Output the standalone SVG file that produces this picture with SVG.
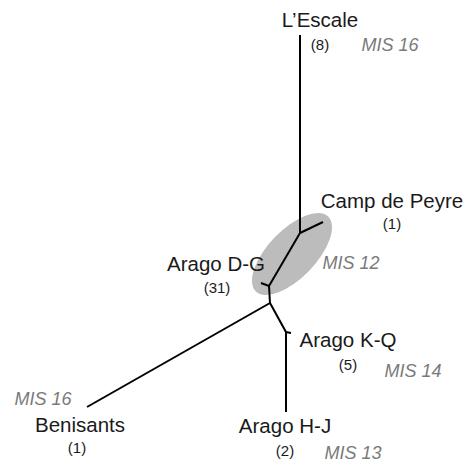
<svg xmlns="http://www.w3.org/2000/svg" width="473" height="463" viewBox="0 0 473 463">
<style>
.lbl{font-family:"Liberation Sans",Arial,sans-serif;font-size:20.5px;fill:#1a1a1a;text-anchor:middle}
.cnt{font-family:"Liberation Sans",Arial,sans-serif;font-size:15px;fill:#1a1a1a;text-anchor:middle}
.mis{font-family:"Liberation Sans",Arial,sans-serif;font-size:18px;font-style:italic;fill:#7a7a7a;text-anchor:middle}
.edge{fill:none;stroke:#000;stroke-width:2;stroke-linecap:butt;stroke-linejoin:miter}
</style>
<rect width="473" height="463" fill="#fff"/>
<ellipse cx="292" cy="254" rx="52" ry="24" transform="rotate(-46 292 254)" fill="#bcbcbc"/>
<g id="connectors">
<path class="edge" d="M300,35 V233"/>
<path class="edge" d="M300,233 L323,222"/>
<path class="edge" d="M300,233 L269,286"/>
<path class="edge" d="M269,286 L261,283"/>
<path class="edge" d="M269,286 L270,303"/>
<path class="edge" d="M270,303 L87,407"/>
<path class="edge" d="M270,303 L286,332 L291,333"/>
<path class="edge" d="M286,332 V412"/>
</g>
<g id="lescale">
<text class="lbl" x="320" y="27">L’Escale</text>
<text class="cnt" x="320" y="50">(8)</text>
<text class="mis" x="390" y="51">MIS 16</text>
</g>
<g id="camp-de-peyre">
<text class="lbl" x="392" y="208">Camp de Peyre</text>
<text class="cnt" x="392" y="229">(1)</text>
</g>
<g id="mis12">
<text class="mis" x="351" y="269">MIS 12</text>
</g>
<g id="arago-dg">
<text class="lbl" x="216" y="271">Arago D-G</text>
<text class="cnt" x="217" y="293">(31)</text>
</g>
<g id="arago-kq">
<text class="lbl" x="348" y="347">Arago K-Q</text>
<text class="cnt" x="348" y="370">(5)</text>
<text class="mis" x="413" y="377">MIS 14</text>
</g>
<g id="arago-hj">
<text class="lbl" x="285" y="433">Arago H-J</text>
<text class="cnt" x="285" y="456">(2)</text>
<text class="mis" x="353" y="459">MIS 13</text>
</g>
<g id="benisants">
<text class="mis" x="43" y="405">MIS 16</text>
<text class="lbl" x="80" y="432">Benisants</text>
<text class="cnt" x="77" y="453">(1)</text>
</g>
</svg>
